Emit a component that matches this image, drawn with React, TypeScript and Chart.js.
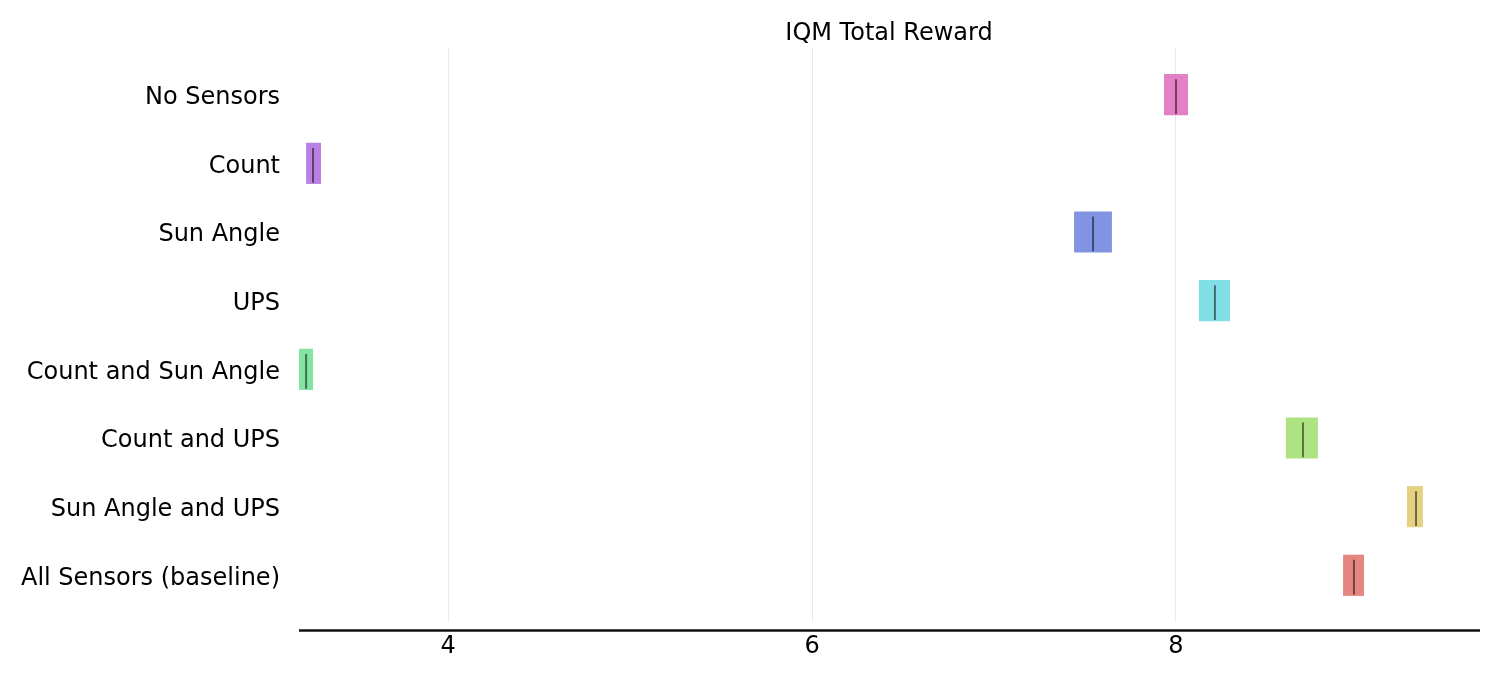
import { useEffect, useRef } from 'react';
import { Chart, registerables } from 'chart.js';

Chart.register(...registerables);

// Categories listed from top to bottom
const categories = [
  'No Sensors',
  'Count',
  'Sun Angle',
  'UPS',
  'Count and Sun Angle',
  'Count and UPS',
  'Sun Angle and UPS',
  'All Sensors (baseline)',
];

// Confidence interval bounds and point estimate (IQM total reward)
const lowerCI = [7.934, 3.22, 7.44, 8.126, 3.181, 8.604, 9.269, 8.918];
const upperCI = [8.066, 3.302, 7.648, 8.297, 3.258, 8.78, 9.357, 9.033];
const iqm = [8.0, 3.258, 7.544, 8.214, 3.22, 8.698, 9.319, 8.978];

const xTicks = [4, 6, 8];
const titleText = 'IQM Total Reward';

const barColors = [
  'rgba(219,87,178,0.75)',
  'rgba(161,87,219,0.75)',
  'rgba(87,112,219,0.75)',
  'rgba(87,211,219,0.75)',
  'rgba(87,219,128,0.75)',
  'rgba(145,219,87,0.75)',
  'rgba(219,194,87,0.75)',
  'rgba(219,95,87,0.75)',
];

// median-line extent relative to the bar centre (rliable style), in category units
const LINE_UP = 0.225;
const LINE_DOWN = 0.28125;

export default function App() {
  const ref = useRef<HTMLCanvasElement>(null);

  useEffect(() => {
    const canvas = ref.current;
    if (!canvas) return;

    const decor = {
      id: 'decor',
      afterDraw(chart: any) {
        const { ctx, chartArea } = chart;
        ctx.save();
        ctx.strokeStyle = '#111';
        ctx.lineWidth = 2.5;
        ctx.beginPath();
        ctx.moveTo(chartArea.left, chartArea.bottom + 8.5);
        ctx.lineTo(chartArea.right + 1, chartArea.bottom + 8.5);
        ctx.stroke();
        ctx.fillStyle = '#000';
        ctx.font = '24px "DejaVu Sans"';
        ctx.textAlign = 'center';
        ctx.textBaseline = 'alphabetic';
        ctx.fillText(titleText, (chartArea.left + chartArea.right) / 2, chartArea.top - 8);
        ctx.restore();
      },
    };

    const lineSets = categories.map((c, i) => ({
      type: 'line' as const,
      label: c + ' IQM',
      data: [
        { x: iqm[i], y: i - LINE_UP },
        { x: iqm[i], y: i + LINE_DOWN },
      ],
      borderColor: 'rgba(0,0,0,0.5)',
      borderWidth: 2,
      pointRadius: 0,
      fill: false,
      order: 0,
    }));

    const chart = new Chart(canvas, {
      type: 'bar',
      data: {
        datasets: [
          ...lineSets,
          {
            type: 'bar' as const,
            label: 'CI',
            data: categories.map((_, i) => ({ x: [lowerCI[i], upperCI[i]], y: i })) as any,
            backgroundColor: barColors,
            borderWidth: 0,
            categoryPercentage: 1,
            barPercentage: 0.6,
            order: 1,
          },
        ] as any,
      },
      options: {
        indexAxis: 'y',
        animation: false,
        responsive: false,
        layout: { padding: { top: 48, right: 21, bottom: 0, left: 0 } },
        plugins: {
          legend: { display: false },
          tooltip: { enabled: false },
          title: { display: false },
        },
        scales: {
          x: {
            type: 'linear',
            min: 3.181,
            max: 9.665,
            offset: false,
            afterBuildTicks: (s: any) => {
              s.ticks = xTicks.map((v) => ({ value: v }));
            },
            afterFit: (s: any) => {
              s.height = 58;
            },
            ticks: {
              padding: 10,
              color: '#000',
              font: { family: 'DejaVu Sans', size: 24 },
            },
            grid: { color: '#ebebeb', lineWidth: 1, drawTicks: false, offset: false },
            border: { display: false },
          },
          y: {
            type: 'linear',
            min: -0.68,
            max: 7.68,
            reverse: true,
            offset: false,
            bounds: 'data',
            afterBuildTicks: (s: any) => {
              s.ticks = categories.map((_, i) => ({ value: i }));
            },
            afterFit: (s: any) => {
              s.width = 299;
            },
            ticks: {
              padding: 19,
              labelOffset: 3,
              color: '#000',
              autoSkip: false,
              font: { family: 'DejaVu Sans', size: 24 },
              callback: (v: any) => categories[v as number] ?? '',
            },
            grid: { display: false, drawTicks: false, offset: false },
            border: { display: false },
          },
        },
      } as any,
      plugins: [decor],
    });

    return () => chart.destroy();
  }, []);

  return (
    <div style={{ position: 'fixed', left: 0, top: 0, width: 1500, height: 680, background: '#fff' }}>
      <canvas ref={ref} width={1500} height={680} style={{ display: 'block' }} />
    </div>
  );
}
